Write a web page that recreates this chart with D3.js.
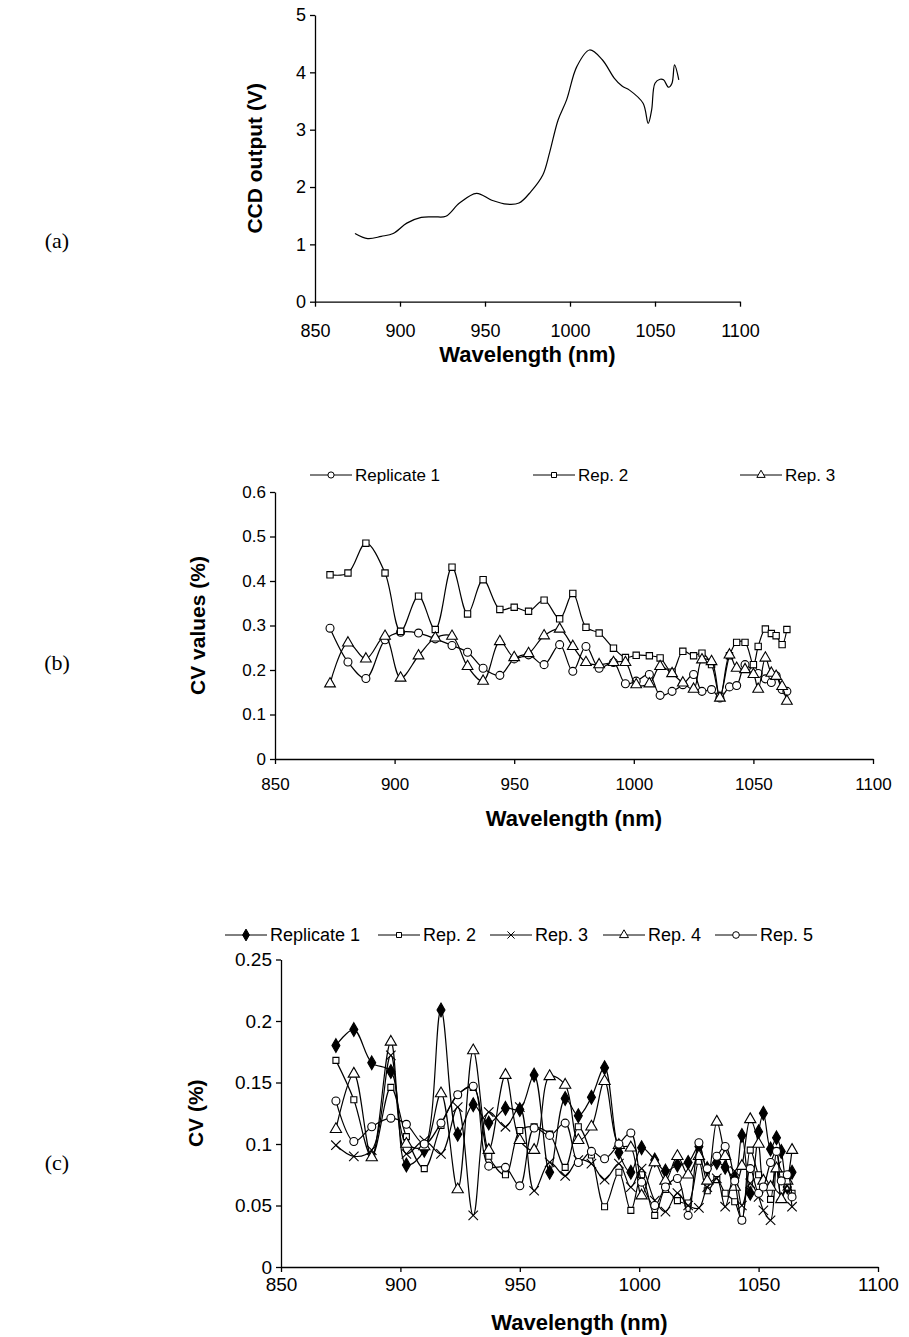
<!DOCTYPE html>
<html>
<head>
<meta charset="utf-8">
<script src="https://cdn.jsdelivr.net/npm/d3@7"></script>
<style>
  body { margin: 0; background: #fff; }
  text { font-family: "Liberation Sans", Arial, sans-serif; fill: #000; }
</style>
</head>
<body>
<div id="chart"></div>
<script>
// (a) CCD output spectrum
var specWave = [873.5, 881, 889, 896, 904, 912.5, 920, 927, 935, 945, 954, 963, 970, 977, 984, 988, 993, 998, 1004, 1011.5, 1019, 1026, 1030.6, 1035, 1043, 1046, 1048, 1050, 1053, 1055, 1058, 1060, 1061.5, 1064];
var specVolt = [1.19, 1.10, 1.14, 1.19, 1.37, 1.47, 1.48, 1.49, 1.72, 1.89, 1.77, 1.70, 1.72, 1.92, 2.21, 2.6, 3.17, 3.52, 4.10, 4.39, 4.22, 3.90, 3.76, 3.69, 3.46, 3.11, 3.34, 3.81, 3.88, 3.87, 3.74, 3.81, 4.13, 3.87];

// wavelengths shared by (b) and (c)
var cvWave = [873, 880.5, 888, 896, 902.5, 910, 917, 924, 930.5, 937, 944, 950, 956, 962.5, 969, 974.5, 980, 985.5, 991.5, 996.5,
  1001, 1006.5, 1011, 1016, 1020.5, 1025, 1028.5, 1032.5, 1036, 1040, 1043, 1046.5, 1050, 1052, 1055, 1057.5, 1059.5, 1062, 1064];

// (b) CV values, 3 replicates
var bRep1 = [0.294, 0.218, 0.181, 0.268, 0.285, 0.283, 0.270, 0.255, 0.240, 0.204, 0.188, 0.225, 0.234, 0.212, 0.257, 0.197, 0.253, 0.204, 0.217, 0.169,
  0.175, 0.190, 0.143, 0.152, 0.167, 0.190, 0.152, 0.156, 0.137, 0.162, 0.165, 0.212, 0.197, 0.192, 0.180, 0.172, 0.187, 0.156, 0.152];
var bRep2 = [0.414, 0.418, 0.485, 0.418, 0.287, 0.366, 0.291, 0.431, 0.326, 0.403, 0.336, 0.341, 0.332, 0.357, 0.315, 0.372, 0.296, 0.283, 0.249, 0.228,
  0.233, 0.232, 0.227, 0.195, 0.242, 0.232, 0.238, 0.212, 0.141, 0.232, 0.262, 0.262, 0.212, 0.253, 0.292, 0.282, 0.277, 0.257, 0.291];
var bRep3 = [0.169, 0.261, 0.225, 0.276, 0.182, 0.232, 0.272, 0.276, 0.208, 0.175, 0.264, 0.228, 0.237, 0.277, 0.292, 0.253, 0.217, 0.212, 0.217, 0.217,
  0.167, 0.169, 0.208, 0.192, 0.171, 0.157, 0.223, 0.219, 0.137, 0.234, 0.204, 0.201, 0.190, 0.157, 0.227, 0.193, 0.186, 0.163, 0.130];

// (c) CV, 5 replicates
var cRep1 = [0.180, 0.193, 0.166, 0.159, 0.083, 0.095, 0.209, 0.108, 0.132, 0.117, 0.129, 0.128, 0.156, 0.077, 0.137, 0.123, 0.138, 0.162, 0.093, 0.077,
  0.097, 0.087, 0.078, 0.083, 0.085, 0.098, 0.080, 0.085, 0.081, 0.072, 0.107, 0.060, 0.110, 0.125, 0.096, 0.105, 0.094, 0.065, 0.077];
var cRep2 = [0.168, 0.136, 0.090, 0.146, 0.106, 0.080, 0.115, 0.140, 0.146, 0.090, 0.075, 0.111, 0.114, 0.108, 0.081, 0.114, 0.091, 0.049, 0.077, 0.046,
  0.075, 0.042, 0.063, 0.054, 0.052, 0.086, 0.062, 0.071, 0.060, 0.053, 0.038, 0.095, 0.075, 0.070, 0.055, 0.094, 0.075, 0.065, 0.060];
var cRep3 = [0.099, 0.090, 0.095, 0.172, 0.092, 0.103, 0.092, 0.130, 0.042, 0.126, 0.114, 0.130, 0.062, 0.085, 0.074, 0.087, 0.084, 0.071, 0.084, 0.065,
  0.080, 0.054, 0.045, 0.060, 0.050, 0.048, 0.065, 0.072, 0.049, 0.078, 0.050, 0.068, 0.057, 0.046, 0.038, 0.082, 0.058, 0.066, 0.049];
var cRep4 = [0.112, 0.157, 0.089, 0.183, 0.100, 0.098, 0.141, 0.063, 0.176, 0.095, 0.156, 0.103, 0.095, 0.155, 0.148, 0.103, 0.114, 0.151, 0.099, 0.097,
  0.058, 0.085, 0.070, 0.090, 0.075, 0.090, 0.070, 0.118, 0.090, 0.065, 0.082, 0.120, 0.100, 0.070, 0.065, 0.080, 0.055, 0.070, 0.095];
var cRep5 = [0.135, 0.102, 0.114, 0.121, 0.116, 0.100, 0.117, 0.140, 0.147, 0.082, 0.081, 0.066, 0.113, 0.107, 0.117, 0.085, 0.094, 0.088, 0.100, 0.109,
  0.069, 0.050, 0.065, 0.072, 0.042, 0.101, 0.080, 0.090, 0.098, 0.070, 0.038, 0.080, 0.060, 0.065, 0.085, 0.094, 0.070, 0.075, 0.057];

var xTicks = [850, 900, 950, 1000, 1050, 1100];
var aTicks = [0, 1, 2, 3, 4, 5];
var bTicks = [0, 0.1, 0.2, 0.3, 0.4, 0.5, 0.6];
var cTicks = [0, 0.05, 0.1, 0.15, 0.2, 0.25];
var bNames = ["Replicate 1", "Rep. 2", "Rep. 3"];
var cNames = ["Replicate 1", "Rep. 2", "Rep. 3", "Rep. 4", "Rep. 5"];

var svg = d3.select("#chart")
  .append("svg")
  .attr("width", 909)
  .attr("height", 1337);

// x-shaped marker (d3.symbolX only in newer builds)
var symX = d3.symbolX || {
  draw: function(ctx, size) {
    var r = Math.sqrt(size) / 2;
    ctx.moveTo(-r, -r); ctx.lineTo(r, r);
    ctx.moveTo(r, -r); ctx.lineTo(-r, r);
  }
};

// draws axes + titles of one panel, returns scales
function panel(p) {
  var x = d3.scaleLinear().domain([850, 1100]).range([p.left, p.right]);
  var y = d3.scaleLinear().domain(p.yDomain).range([p.bottom, p.top]);

  svg.append("g")
    .attr("transform", `translate(0, ${p.bottom})`)
    .call(d3.axisBottom(x).tickValues(xTicks).tickSize(5).tickSizeOuter(0).tickPadding(p.xPad).tickFormat(d3.format("d")))
    .call(g => g.selectAll("text").style("font-size", p.tickFont + "px"));

  svg.append("g")
    .attr("transform", `translate(${p.left}, 0)`)
    .call(d3.axisLeft(y).tickValues(p.yTicks).tickSize(5).tickSizeOuter(0).tickPadding(4).tickFormat(p.yFormat))
    .call(g => g.selectAll("text").style("font-size", p.tickFont + "px"));

  svg.selectAll(".domain, .tick line").attr("stroke", "#000").attr("stroke-width", 1.3);
  svg.selectAll(".tick text").attr("fill", "#000").style("font-family", "'Liberation Sans', Arial, sans-serif");

  svg.append("text")
    .attr("x", (p.left + p.right) / 2)
    .attr("y", p.xTitleY)
    .attr("text-anchor", "middle")
    .style("font-size", "22px")
    .style("font-weight", "bold")
    .text("Wavelength (nm)");

  svg.append("text")
    .attr("transform", `translate(${p.yTitleX}, ${(p.top + p.bottom) / 2}) rotate(-90)`)
    .attr("text-anchor", "middle")
    .style("font-size", "21px")
    .style("font-weight", "bold")
    .text(p.yTitle);

  svg.append("text")
    .attr("x", 57)
    .attr("y", p.labelY)
    .attr("text-anchor", "middle")
    .style("font-family", "'Liberation Serif', 'Times New Roman', serif")
    .style("font-size", "22px")
    .text(p.label);

  return { x: x, y: y };
}

// smoothed line + markers for one series
function series(s, xs, ys, sym, size, filled) {
  var pts = xs.map((d, i) => [d, ys[i]]);
  svg.append("path")
    .datum(pts)
    .attr("fill", "none")
    .attr("stroke", "#000")
    .attr("stroke-width", 1.2)
    .attr("d", d3.line().x(d => s.x(d[0])).y(d => s.y(d[1])).curve(d3.curveCatmullRom.alpha(0.5)));
  if (!sym) return;
  svg.append("g").selectAll("path")
    .data(pts)
    .enter()
    .append("path")
    .attr("transform", d => `translate(${s.x(d[0])}, ${s.y(d[1])})`)
    .attr("d", d3.symbol().type(sym).size(size))
    .attr("fill", sym === symX ? "none" : (filled ? "#000" : "#fff"))
    .attr("stroke", "#000")
    .attr("stroke-width", 1.1);
}

function legend(items, y, fontSize) {
  items.forEach(function(it) {
    svg.append("line")
      .attr("x1", it.x).attr("x2", it.x + 42)
      .attr("y1", y).attr("y2", y)
      .attr("stroke", "#000").attr("stroke-width", 1);
    svg.append("path")
      .attr("transform", `translate(${it.x + 21}, ${y})`)
      .attr("d", d3.symbol().type(it.sym).size(it.size))
      .attr("fill", it.sym === symX ? "none" : (it.filled ? "#000" : "#fff"))
      .attr("stroke", "#000");
    svg.append("text")
      .attr("x", it.x + 45)
      .attr("y", y + 6)
      .style("font-size", fontSize + "px")
      .text(it.name);
  });
}

// ---- (a)
var sa = panel({ left: 315, right: 740, top: 15, bottom: 301.7, yDomain: [0, 5], yTicks: aTicks, xPad: 18,
  yFormat: d3.format("d"), tickFont: 18, xTitleY: 362, yTitleX: 262, yTitle: "CCD output (V)", label: "(a)", labelY: 248 });
series(sa, specWave, specVolt, null);

// ---- (b)
var sb = panel({ left: 275, right: 873, top: 492, bottom: 759, yDomain: [0, 0.6], yTicks: bTicks, xPad: 14,
  yFormat: d => d === 0 ? "0" : d3.format(".1f")(d), tickFont: 17, xTitleY: 826, yTitleX: 205, yTitle: "CV values (%)", label: "(b)", labelY: 670 });
series(sb, cvWave, bRep1, d3.symbolCircle, 50, false);
series(sb, cvWave, bRep2, d3.symbolSquare, 40, false);
series(sb, cvWave, bRep3, d3.symbolTriangle, 50, false);
legend([
  { x: 310, name: bNames[0], sym: d3.symbolCircle, size: 30 },
  { x: 533, name: bNames[1], sym: d3.symbolSquare, size: 25 },
  { x: 740, name: bNames[2], sym: d3.symbolTriangle, size: 30 }
], 475, 17);

// ---- (c)
var sc = panel({ left: 281, right: 878, top: 959.5, bottom: 1267, yDomain: [0, 0.25], yTicks: cTicks, xPad: 6,
  yFormat: d => d === 0 ? "0" : String(d), tickFont: 19, xTitleY: 1330, yTitleX: 203, yTitle: "CV (%)", label: "(c)", labelY: 1170 });
series(sc, cvWave, cRep1, d3.symbolDiamond, 55, true);
series(sc, cvWave, cRep2, d3.symbolSquare, 36, false);
series(sc, cvWave, cRep3, symX, 60, false);
series(sc, cvWave, cRep4, d3.symbolTriangle, 55, false);
series(sc, cvWave, cRep5, d3.symbolCircle, 50, false);
legend([
  { x: 225, name: cNames[0], sym: d3.symbolDiamond, size: 40, filled: true },
  { x: 378, name: cNames[1], sym: d3.symbolSquare, size: 25 },
  { x: 490, name: cNames[2], sym: symX, size: 35 },
  { x: 603, name: cNames[3], sym: d3.symbolTriangle, size: 35 },
  { x: 715, name: cNames[4], sym: d3.symbolCircle, size: 35 }
], 935, 18);
</script>
</body>
</html>
